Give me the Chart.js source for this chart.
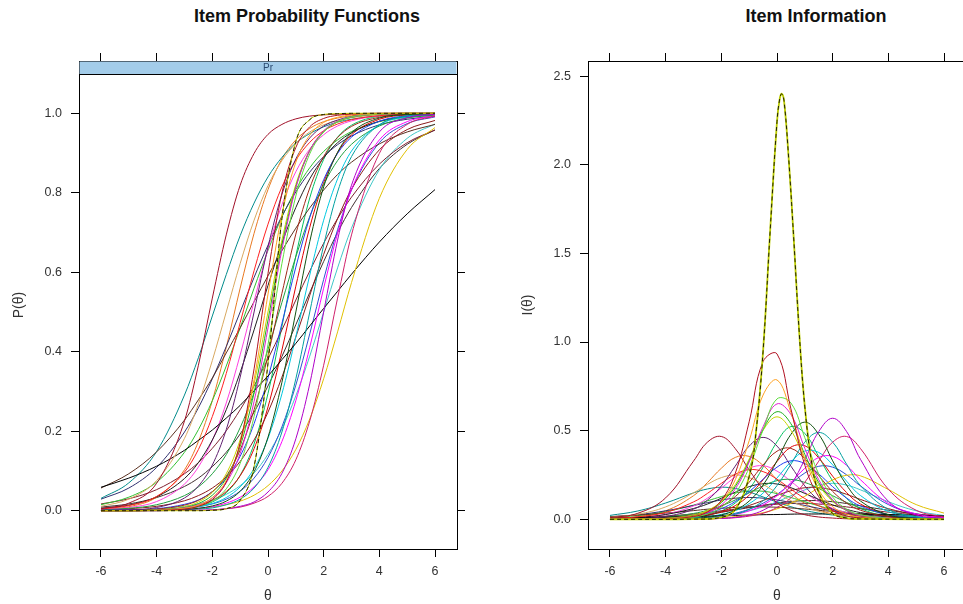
<!DOCTYPE html>
<html>
<head>
<meta charset="utf-8">
<title>Item Probability Functions / Item Information</title>
<script src="https://cdn.jsdelivr.net/npm/chart.js@4.4.1/dist/chart.umd.min.js"></script>
<style>
    html, body { margin: 0; padding: 0; background: #fff; overflow: hidden; }
    #wrap { position: relative; width: 963px; height: 604px; overflow: hidden; }
    canvas { position: absolute; top: 0; }
    #prob-chart { left: 0; }
    #info-chart { left: 480px; }
    .panel-title {
        position: absolute; top: 6px; line-height: 22px;
        font: bold 18px "Liberation Sans", Arial, sans-serif; color: #111;
        white-space: nowrap; transform: translateX(-50%);
    }
</style>
</head>
<body>
<div id="wrap">
    <div class="panel-title" style="left:307px">Item Probability Functions</div>
    <div class="panel-title" style="left:816px">Item Information</div>
    <canvas id="prob-chart" width="480" height="604"></canvas>
    <canvas id="info-chart" width="500" height="604"></canvas>
</div>
<script>
// theta grid shared by all items
const theta = [-6, -5, -4, -3, -2.5, -2, -1.5, -1, -0.5, 0, 0.5, 1, 1.5, 2, 2.5, 3, 4, 5, 6];
// finer grid for the very sharp item
const thetaPeak = [-6, -3, -2, -1.5, -1, -0.75, -0.5, -0.25, 0, 0.1, 0.17, 0.25, 0.4, 0.6, 0.8, 1, 1.25, 1.5, 2, 2.5, 3, 6];

const thetaTicks = [-6, -4, -2, 0, 2, 4, 6];
const probTicks = [0, 0.2, 0.4, 0.6, 0.8, 1.0];
const infoTicks = [0, 0.5, 1.0, 1.5, 2.0, 2.5];
const stripLabel = 'Pr';

// the steepest item (drawn twice: yellow + dark dashed)
const probPeak = [0, 0, 0, 0, 0, 0.001, 0.005, 0.026, 0.111, 0.371, 0.735, 0.929, 0.984, 0.997, 0.999, 1, 1, 1, 1];
const infoPeak = [0, 0.001, 0.011, 0.054, 0.241, 0.497, 0.948, 1.616, 2.243, 2.374, 2.40, 2.364, 2.081, 1.587, 1.05, 0.634, 0.316, 0.152, 0.033, 0.007, 0.002, 0];

const itemColors = [
    '#B01020', '#FFA020', '#60DC40', '#E020D0', '#20B020', '#C8D400', '#B000C8', '#A01028',
    '#105010', '#D0206A', '#602070', '#00A0A0', '#A02818', '#FF00FF', '#FF2020', '#D8A860',
    '#E0C000', '#000000', '#2040F0', '#00C8E0', '#20A040', '#202020', '#FF40E0', '#8B1A1A',
    '#E00000', '#5A3020', '#008B8B', '#303070', '#30C030', '#802030', '#E87820', '#00C060',
    '#3050D0', '#40C8C8', '#403030'
];

// P(theta) per item, on the theta grid
const probValues = [
    [0, 0, 0.001, 0.004, 0.011, 0.028, 0.072, 0.171, 0.357, 0.597, 0.799, 0.914, 0.966, 0.987, 0.995, 0.998, 1, 1, 1],
    [0, 0, 0.001, 0.006, 0.014, 0.033, 0.076, 0.168, 0.330, 0.545, 0.745, 0.877, 0.945, 0.977, 0.990, 0.996, 0.999, 1, 1],
    [0, 0, 0.001, 0.005, 0.011, 0.025, 0.055, 0.119, 0.237, 0.418, 0.622, 0.792, 0.898, 0.953, 0.979, 0.991, 0.998, 1, 1],
    [0, 0, 0.001, 0.007, 0.015, 0.032, 0.070, 0.144, 0.275, 0.460, 0.657, 0.812, 0.906, 0.956, 0.980, 0.991, 0.998, 1, 1],
    [0, 0, 0.002, 0.008, 0.018, 0.039, 0.082, 0.162, 0.297, 0.480, 0.668, 0.815, 0.906, 0.954, 0.979, 0.990, 0.998, 1, 1],
    [0, 0, 0.002, 0.010, 0.022, 0.046, 0.093, 0.179, 0.319, 0.5, 0.681, 0.821, 0.907, 0.954, 0.978, 0.990, 0.998, 1, 1],
    [0, 0, 0, 0.001, 0.001, 0.002, 0.005, 0.011, 0.022, 0.047, 0.094, 0.181, 0.319, 0.5, 0.681, 0.819, 0.953, 0.989, 0.998],
    [0.005, 0.019, 0.069, 0.226, 0.366, 0.535, 0.694, 0.819, 0.899, 0.947, 0.972, 0.986, 0.993, 0.996, 0.998, 0.999, 1, 1, 1],
    [0, 0, 0.001, 0.003, 0.006, 0.012, 0.024, 0.049, 0.098, 0.185, 0.323, 0.5, 0.677, 0.815, 0.902, 0.951, 0.988, 0.997, 0.999],
    [0, 0, 0, 0.001, 0.001, 0.002, 0.005, 0.009, 0.019, 0.036, 0.069, 0.128, 0.226, 0.366, 0.535, 0.694, 0.899, 0.972, 0.993],
    [0.001, 0.002, 0.008, 0.032, 0.062, 0.115, 0.204, 0.336, 0.5, 0.664, 0.796, 0.885, 0.938, 0.968, 0.983, 0.992, 0.998, 0.999, 1],
    [0, 0, 0, 0.002, 0.004, 0.007, 0.015, 0.029, 0.057, 0.109, 0.198, 0.332, 0.5, 0.668, 0.802, 0.891, 0.971, 0.993, 0.998],
    [0, 0.001, 0.004, 0.014, 0.026, 0.048, 0.087, 0.153, 0.254, 0.391, 0.547, 0.696, 0.812, 0.891, 0.939, 0.967, 0.990, 0.997, 0.999],
    [0, 0, 0.001, 0.003, 0.006, 0.010, 0.019, 0.034, 0.060, 0.103, 0.174, 0.277, 0.411, 0.560, 0.698, 0.808, 0.933, 0.979, 0.994],
    [0.004, 0.013, 0.036, 0.097, 0.154, 0.237, 0.345, 0.473, 0.604, 0.721, 0.815, 0.882, 0.927, 0.956, 0.973, 0.984, 0.994, 0.998, 0.999],
    [0.011, 0.029, 0.076, 0.182, 0.269, 0.378, 0.5, 0.622, 0.731, 0.818, 0.881, 0.924, 0.953, 0.971, 0.982, 0.989, 0.996, 0.998, 0.999],
    [0, 0, 0.001, 0.003, 0.005, 0.009, 0.015, 0.024, 0.039, 0.063, 0.100, 0.154, 0.231, 0.332, 0.450, 0.574, 0.786, 0.909, 0.964],
    [0.059, 0.082, 0.112, 0.152, 0.177, 0.203, 0.233, 0.265, 0.302, 0.339, 0.380, 0.421, 0.465, 0.509, 0.552, 0.595, 0.676, 0.747, 0.808],
    [0.001, 0.002, 0.005, 0.016, 0.027, 0.048, 0.082, 0.137, 0.219, 0.334, 0.471, 0.613, 0.738, 0.833, 0.899, 0.940, 0.980, 0.994, 0.998],
    [0, 0, 0.002, 0.005, 0.010, 0.018, 0.033, 0.060, 0.106, 0.182, 0.294, 0.438, 0.593, 0.731, 0.835, 0.905, 0.971, 0.991, 0.998],
    [0.002, 0.006, 0.015, 0.038, 0.060, 0.093, 0.141, 0.209, 0.297, 0.406, 0.524, 0.639, 0.740, 0.821, 0.881, 0.922, 0.968, 0.988, 0.995],
    [0.006, 0.014, 0.035, 0.081, 0.121, 0.178, 0.254, 0.348, 0.455, 0.567, 0.673, 0.763, 0.835, 0.888, 0.926, 0.951, 0.980, 0.992, 0.997],
    [0.003, 0.008, 0.023, 0.067, 0.110, 0.177, 0.271, 0.392, 0.527, 0.659, 0.770, 0.853, 0.910, 0.946, 0.968, 0.981, 0.994, 0.998, 0.999],
    [0.002, 0.005, 0.011, 0.025, 0.038, 0.057, 0.085, 0.124, 0.178, 0.248, 0.336, 0.437, 0.542, 0.645, 0.735, 0.809, 0.908, 0.959, 0.982],
    [0, 0.001, 0.002, 0.007, 0.014, 0.026, 0.048, 0.088, 0.156, 0.261, 0.404, 0.565, 0.713, 0.826, 0.901, 0.946, 0.985, 0.996, 0.999],
    [0.057, 0.093, 0.148, 0.228, 0.279, 0.334, 0.397, 0.460, 0.526, 0.591, 0.654, 0.711, 0.762, 0.807, 0.846, 0.877, 0.923, 0.953, 0.972],
    [0.031, 0.070, 0.149, 0.291, 0.385, 0.490, 0.594, 0.692, 0.774, 0.840, 0.889, 0.925, 0.949, 0.966, 0.978, 0.985, 0.994, 0.997, 0.999],
    [0.029, 0.057, 0.109, 0.198, 0.259, 0.332, 0.413, 0.5, 0.587, 0.668, 0.741, 0.802, 0.852, 0.891, 0.921, 0.943, 0.971, 0.985, 0.993],
    [0.015, 0.034, 0.072, 0.147, 0.204, 0.277, 0.364, 0.460, 0.560, 0.655, 0.739, 0.808, 0.863, 0.904, 0.933, 0.954, 0.979, 0.990, 0.996],
    [0.017, 0.030, 0.053, 0.093, 0.121, 0.157, 0.201, 0.254, 0.314, 0.382, 0.455, 0.530, 0.603, 0.673, 0.735, 0.789, 0.872, 0.926, 0.958],
    [0.003, 0.010, 0.034, 0.103, 0.174, 0.277, 0.411, 0.560, 0.698, 0.808, 0.885, 0.933, 0.962, 0.979, 0.988, 0.994, 0.998, 0.999, 1],
    [0, 0, 0.001, 0.005, 0.011, 0.022, 0.045, 0.089, 0.168, 0.295, 0.464, 0.641, 0.787, 0.884, 0.940, 0.970, 0.993, 0.998, 1],
    [0, 0.001, 0.002, 0.006, 0.010, 0.017, 0.029, 0.049, 0.082, 0.134, 0.211, 0.316, 0.445, 0.582, 0.707, 0.807, 0.926, 0.974, 0.991],
    [0.001, 0.002, 0.004, 0.011, 0.017, 0.027, 0.041, 0.063, 0.095, 0.142, 0.206, 0.289, 0.389, 0.5, 0.611, 0.711, 0.858, 0.937, 0.973],
    [0.009, 0.017, 0.033, 0.061, 0.082, 0.111, 0.147, 0.193, 0.248, 0.314, 0.388, 0.468, 0.549, 0.627, 0.700, 0.763, 0.861, 0.922, 0.958]
];

// I(theta) per item, same order and grid
const infoValues = [
    [0, 0, 0.002, 0.016, 0.042, 0.106, 0.259, 0.550, 0.890, 0.933, 0.623, 0.305, 0.127, 0.050, 0.019, 0.008, 0.001, 0, 0],
    [0, 0.001, 0.003, 0.018, 0.044, 0.101, 0.223, 0.443, 0.701, 0.786, 0.602, 0.342, 0.165, 0.071, 0.030, 0.013, 0.002, 0, 0],
    [0, 0, 0.003, 0.013, 0.030, 0.068, 0.145, 0.292, 0.504, 0.679, 0.656, 0.460, 0.256, 0.125, 0.057, 0.026, 0.005, 0.001, 0],
    [0, 0.001, 0.003, 0.017, 0.038, 0.081, 0.171, 0.323, 0.522, 0.651, 0.591, 0.400, 0.223, 0.110, 0.051, 0.023, 0.005, 0.001, 0],
    [0, 0.001, 0.004, 0.020, 0.044, 0.094, 0.185, 0.330, 0.507, 0.607, 0.539, 0.366, 0.207, 0.107, 0.050, 0.024, 0.005, 0.001, 0],
    [0, 0.001, 0.005, 0.024, 0.050, 0.101, 0.195, 0.340, 0.502, 0.578, 0.502, 0.340, 0.195, 0.101, 0.050, 0.024, 0.005, 0.001, 0],
    [0, 0, 0, 0.001, 0.003, 0.005, 0.011, 0.024, 0.051, 0.102, 0.194, 0.338, 0.495, 0.570, 0.495, 0.338, 0.102, 0.024, 0.005],
    [0.009, 0.034, 0.121, 0.328, 0.435, 0.467, 0.399, 0.278, 0.170, 0.094, 0.051, 0.026, 0.013, 0.007, 0.003, 0.002, 0, 0, 0],
    [0, 0, 0.001, 0.006, 0.012, 0.025, 0.052, 0.103, 0.193, 0.330, 0.479, 0.548, 0.479, 0.330, 0.193, 0.103, 0.025, 0.006, 0.001],
    [0, 0, 0, 0.001, 0.002, 0.005, 0.009, 0.018, 0.034, 0.067, 0.121, 0.209, 0.328, 0.435, 0.467, 0.399, 0.170, 0.051, 0.013],
    [0.001, 0.004, 0.016, 0.057, 0.108, 0.188, 0.300, 0.413, 0.462, 0.413, 0.300, 0.188, 0.108, 0.057, 0.031, 0.016, 0.004, 0.001, 0],
    [0, 0, 0.001, 0.004, 0.007, 0.015, 0.029, 0.056, 0.105, 0.190, 0.311, 0.435, 0.49, 0.435, 0.311, 0.190, 0.056, 0.015, 0.004],
    [0, 0.002, 0.006, 0.022, 0.041, 0.074, 0.128, 0.209, 0.306, 0.384, 0.400, 0.341, 0.246, 0.157, 0.092, 0.051, 0.015, 0.004, 0.001],
    [0, 0, 0.001, 0.004, 0.008, 0.015, 0.027, 0.048, 0.081, 0.133, 0.207, 0.288, 0.349, 0.355, 0.304, 0.223, 0.090, 0.030, 0.009],
    [0.005, 0.014, 0.039, 0.098, 0.146, 0.203, 0.254, 0.280, 0.269, 0.226, 0.170, 0.117, 0.076, 0.047, 0.030, 0.018, 0.006, 0.002, 0.001],
    [0.011, 0.029, 0.070, 0.149, 0.197, 0.235, 0.25, 0.235, 0.197, 0.149, 0.105, 0.070, 0.045, 0.029, 0.018, 0.011, 0.004, 0.002, 0.001],
    [0, 0, 0.001, 0.003, 0.005, 0.009, 0.015, 0.024, 0.037, 0.059, 0.090, 0.130, 0.178, 0.222, 0.248, 0.245, 0.168, 0.083, 0.035],
    [0.007, 0.009, 0.012, 0.016, 0.018, 0.020, 0.022, 0.024, 0.026, 0.027, 0.029, 0.030, 0.030, 0.031, 0.030, 0.030, 0.027, 0.023, 0.019],
    [0.001, 0.002, 0.007, 0.020, 0.035, 0.060, 0.100, 0.156, 0.226, 0.294, 0.330, 0.314, 0.256, 0.184, 0.120, 0.075, 0.026, 0.008, 0.003],
    [0, 0.001, 0.002, 0.008, 0.015, 0.028, 0.049, 0.088, 0.148, 0.233, 0.324, 0.385, 0.377, 0.307, 0.215, 0.134, 0.044, 0.013, 0.004],
    [0.002, 0.005, 0.013, 0.033, 0.051, 0.076, 0.109, 0.149, 0.188, 0.218, 0.225, 0.208, 0.174, 0.133, 0.095, 0.065, 0.028, 0.011, 0.004],
    [0.005, 0.011, 0.027, 0.061, 0.086, 0.119, 0.153, 0.184, 0.201, 0.199, 0.178, 0.146, 0.112, 0.081, 0.056, 0.038, 0.017, 0.007, 0.003],
    [0.003, 0.009, 0.028, 0.075, 0.119, 0.176, 0.239, 0.288, 0.302, 0.272, 0.214, 0.152, 0.099, 0.062, 0.038, 0.023, 0.008, 0.003, 0.001],
    [0.001, 0.003, 0.008, 0.018, 0.026, 0.039, 0.056, 0.078, 0.106, 0.135, 0.161, 0.178, 0.179, 0.165, 0.141, 0.112, 0.060, 0.028, 0.013],
    [0, 0.001, 0.003, 0.012, 0.023, 0.043, 0.077, 0.136, 0.223, 0.326, 0.407, 0.415, 0.346, 0.243, 0.151, 0.086, 0.026, 0.007, 0.002],
    [0.015, 0.024, 0.035, 0.049, 0.057, 0.062, 0.067, 0.070, 0.070, 0.068, 0.064, 0.058, 0.051, 0.044, 0.037, 0.030, 0.020, 0.013, 0.008],
    [0.022, 0.047, 0.092, 0.149, 0.171, 0.181, 0.174, 0.154, 0.126, 0.097, 0.071, 0.050, 0.035, 0.024, 0.016, 0.011, 0.004, 0.002, 0.001],
    [0.014, 0.026, 0.048, 0.078, 0.094, 0.109, 0.119, 0.123, 0.119, 0.109, 0.094, 0.078, 0.062, 0.048, 0.036, 0.026, 0.014, 0.007, 0.004],
    [0.010, 0.021, 0.043, 0.080, 0.104, 0.128, 0.148, 0.159, 0.158, 0.145, 0.123, 0.099, 0.076, 0.056, 0.040, 0.028, 0.013, 0.006, 0.003],
    [0.006, 0.011, 0.018, 0.030, 0.038, 0.048, 0.058, 0.068, 0.078, 0.085, 0.089, 0.090, 0.086, 0.079, 0.070, 0.060, 0.040, 0.025, 0.014],
    [0.004, 0.015, 0.048, 0.133, 0.207, 0.288, 0.349, 0.355, 0.304, 0.223, 0.147, 0.090, 0.053, 0.030, 0.017, 0.009, 0.003, 0.001, 0],
    [0, 0.001, 0.003, 0.011, 0.023, 0.047, 0.092, 0.170, 0.294, 0.437, 0.523, 0.484, 0.353, 0.216, 0.118, 0.061, 0.015, 0.004, 0.001],
    [0, 0.001, 0.002, 0.007, 0.012, 0.020, 0.034, 0.057, 0.091, 0.140, 0.201, 0.261, 0.299, 0.294, 0.251, 0.188, 0.083, 0.031, 0.011],
    [0.001, 0.001, 0.004, 0.009, 0.014, 0.021, 0.032, 0.048, 0.070, 0.099, 0.133, 0.166, 0.193, 0.203, 0.193, 0.166, 0.099, 0.048, 0.021],
    [0.004, 0.007, 0.014, 0.024, 0.032, 0.042, 0.053, 0.066, 0.079, 0.091, 0.100, 0.105, 0.105, 0.099, 0.089, 0.076, 0.051, 0.030, 0.017]
];

(function() {
    'use strict';

    const FONT = '"Liberation Sans", Arial, sans-serif';
    const peakColor = '#BCCC00';
    const peakDash = '#222200';

    function toPoints(xs, ys) {
        return ys.map((y, i) => ({ x: xs[i], y: y }));
    }

    function buildDatasets(xs, series, peakXs, peakYs, smooth, peakWidth) {
        const sets = [
            { data: toPoints(peakXs, peakYs), borderColor: peakDash, borderWidth: 1, borderDash: [4, 3] },
            { data: toPoints(peakXs, peakYs), borderColor: peakColor, borderWidth: peakWidth }
        ];
        series.forEach((ys, i) => {
            sets.push({ data: toPoints(xs, ys), borderColor: itemColors[i], borderWidth: 1 });
        });
        sets.forEach(ds => {
            ds.pointRadius = 0;
            ds.fill = false;
            Object.assign(ds, smooth);
        });
        return sets;
    }

    // lattice-like box: ticks outside on all four sides, labels only left/bottom
    function buildScales(cfg) {
        const marks = { drawOnChartArea: false, drawTicks: true, tickLength: 8, color: '#000', lineWidth: 1 };
        const edge = { display: true, color: '#000', width: 1 };
        const tickFont = { family: FONT, size: 12.5 };
        const titleFont = { family: FONT, size: 14 };
        const setTicks = list => scale => { scale.ticks = list.map(v => ({ value: v })); };
        return {
            x: {
                type: 'linear', position: 'bottom', min: -6.79, max: 6.79,
                afterBuildTicks: setTicks(thetaTicks),
                afterFit: s => { s.height = 55; },
                grid: marks, border: edge,
                ticks: { font: tickFont, color: '#333', padding: 7, maxRotation: 0, autoSkip: false },
                title: { display: true, text: 'θ', color: '#333', font: titleFont, padding: { top: 0, bottom: -1 } }
            },
            xTop: {
                type: 'linear', position: 'top', min: -6.79, max: 6.79,
                afterBuildTicks: setTicks(thetaTicks),
                afterFit: s => { s.height = 61; },
                grid: marks, border: edge,
                ticks: { display: false }
            },
            y: {
                type: 'linear', position: 'left', min: cfg.yMin, max: cfg.yMax,
                afterBuildTicks: setTicks(cfg.yTicks),
                afterFit: s => { s.width = cfg.leftWidth; },
                grid: marks, border: edge,
                ticks: { font: tickFont, color: '#333', padding: 9, callback: v => v.toFixed(1) },
                title: { display: true, text: cfg.yTitle, color: '#333', font: titleFont, padding: { top: cfg.titlePad, bottom: 0 } }
            },
            yRight: {
                type: 'linear', position: 'right', min: cfg.yMin, max: cfg.yMax,
                afterBuildTicks: setTicks(cfg.yTicks),
                afterFit: s => { s.width = cfg.rightWidth; },
                grid: marks, border: edge,
                ticks: { display: false }
            }
        };
    }

    // blue strip with the panel label, as lattice draws it
    const stripPlugin = {
        id: 'strip',
        beforeDatasetsDraw(chart) {
            const ctx = chart.ctx;
            const a = chart.chartArea;
            ctx.save();
            ctx.fillStyle = '#A3CCE9';
            ctx.fillRect(a.left + 0.5, a.top + 0.5, a.right - a.left - 1, 12.5);
            ctx.strokeStyle = '#000';
            ctx.lineWidth = 1;
            ctx.beginPath();
            ctx.moveTo(a.left, a.top + 13.5);
            ctx.lineTo(a.right, a.top + 13.5);
            ctx.stroke();
            ctx.fillStyle = '#2A4A70';
            ctx.font = '10px ' + FONT;
            ctx.textAlign = 'center';
            ctx.textBaseline = 'middle';
            ctx.fillText(stripLabel, (a.left + a.right) / 2, a.top + 7);
            ctx.restore();
        }
    };

    const baseOptions = {
        responsive: false,
        animation: false,
        devicePixelRatio: 1,
        layout: { padding: 0 },
        plugins: { legend: { display: false }, tooltip: { enabled: false } }
    };

    function initCharts() {
        new Chart(document.getElementById('prob-chart'), {
            type: 'line',
            data: { datasets: buildDatasets(theta, probValues, theta, probPeak, { cubicInterpolationMode: 'monotone' }, 1) },
            options: Object.assign({}, baseOptions, {
                scales: buildScales({
                    yMin: -0.0964, yMax: 1.1316, yTicks: probTicks, yTitle: 'P(θ)',
                    leftWidth: 79, rightWidth: 23, titlePad: 11
                })
            }),
            plugins: [stripPlugin]
        });

        new Chart(document.getElementById('info-chart'), {
            type: 'line',
            data: { datasets: buildDatasets(theta, infoValues, thetaPeak, infoPeak, { tension: 0.4 }, 1.8) },
            options: Object.assign({}, baseOptions, {
                scales: buildScales({
                    yMin: -0.1675, yMax: 2.585, yTicks: infoTicks, yTitle: 'I(θ)',
                    leftWidth: 108, rightWidth: 14, titlePad: 40
                })
            })
        });
    }

    if (document.readyState === 'loading') {
        document.addEventListener('DOMContentLoaded', initCharts);
    } else {
        initCharts();
    }
})();
</script>
</body>
</html>
